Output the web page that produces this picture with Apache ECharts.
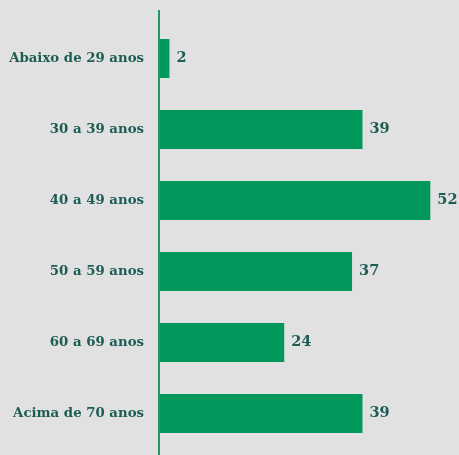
<!DOCTYPE html>
<html><head><meta charset="utf-8">
<script src="https://cdn.jsdelivr.net/npm/echarts@6/dist/echarts.min.js"></script>
<style>html,body{margin:0;padding:0;background:#e1e1e1;}#c{width:459px;height:455px;}</style>
</head><body><div id="c"></div>
<script>
const categories = ["Abaixo de 29 anos","30 a 39 anos","40 a 49 anos","50 a 59 anos","60 a 69 anos","Acima de 70 anos"];
const values = [2,39,52,37,24,39];

const textColor = '#1c5d55';
const green = '#00995b';
const font = '"DejaVu Serif", serif';
const chart = echarts.init(document.getElementById('c'));
chart.setOption({
  backgroundColor: '#e1e1e1',
  animation: false,
  grid: {left: 159, right: 0, top: 23, bottom: 6, containLabel: false},
  xAxis: {type: 'value', min: 0, max: 57.5, show: false},
  yAxis: {type: 'category', data: categories, inverse: true,
    axisLine: {show: false}, axisTick: {show: false}, splitLine: {show: false},
    axisLabel: {color: textColor, fontFamily: font, fontWeight: 'bold', fontSize: 13.3, margin: 15}},
  series: [{type: 'bar', data: values, barWidth: 39, itemStyle: {color: green},
    label: {show: true, position: 'right', distance: 7, color: textColor, fontFamily: font, fontWeight: 'bold', fontSize: 14.5}}]
});
const x0 = chart.convertToPixel({xAxisIndex: 0}, 0);
chart.setOption({graphic: [{type: 'line', shape: {x1: x0, y1: 10, x2: x0, y2: 455}, style: {stroke: '#1f9a60', lineWidth: 2}, z: 10}]});
</script></body></html>
